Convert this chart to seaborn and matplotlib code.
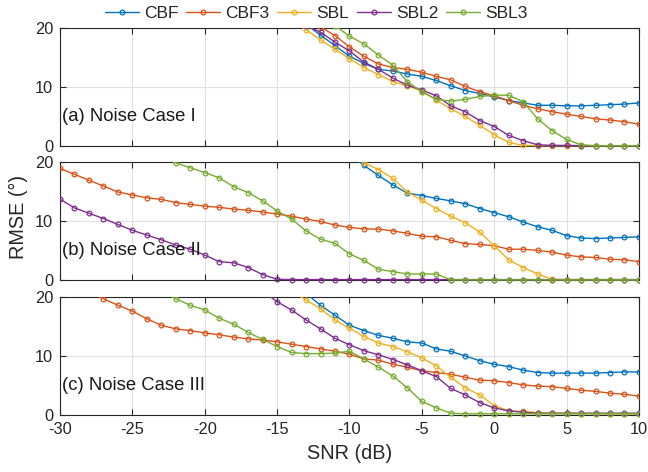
import numpy as np
import pandas as pd
import matplotlib
matplotlib.use("Agg")
import matplotlib.pyplot as plt
from matplotlib.lines import Line2D
from matplotlib.transforms import Bbox, TransformedBbox
import seaborn as sns

NAN = np.nan
snr = list(range(-30, 11))
methods = ["CBF", "CBF3", "SBL", "SBL2", "SBL3"]
colors = ["#0072BD", "#D95319", "#EDB120", "#7E2F8E", "#77AC30"]
panel_titles = ["(a) Noise Case I", "(b) Noise Case II", "(c) Noise Case III"]

# ---- Noise Case I (values listed from the first visible SNR, leading points off-scale) ----
c1_cbf_start, c1_cbf = -13, [20.6, 18.8, 17.0, 15.2, 14.0, 13.0, 12.7, 12.2, 11.8, 11.1, 10.2, 9.4,
                             8.9, 8.3, 7.7, 7.3, 6.9, 6.9, 6.8, 6.8, 6.9, 7.0, 7.1, 7.3]
c1_cbf3_start, c1_cbf3 = -12, [20.2, 18.7, 16.8, 15.2, 13.9, 13.3, 13.0, 12.5, 11.8, 11.2, 10.1, 9.2,
                               8.5, 7.7, 6.9, 6.3, 5.8, 5.4, 5.0, 4.6, 4.4, 4.1, 3.7]
c1_sbl_start, c1_sbl = -14, [21.2, 19.7, 18.0, 16.4, 14.8, 13.3, 12.1, 10.9, 10.2, 9.3, 7.8, 6.3, 5.0,
                             3.5, 1.9, 0.6, 0.1, 0.05, 0.05, 0.05, 0.05, 0.05, 0.05, 0.05, 0.05]
c1_sbl2_start, c1_sbl2 = -13, [20.4, 19.3, 17.6, 16.1, 14.2, 13.0, 11.5, 10.3, 9.5, 8.5, 6.8, 5.8, 4.3,
                               3.3, 1.8, 0.9, 0.2, 0.1, 0.1, 0.05, 0.05, 0.05, 0.05, 0.05]
c1_sbl3_start, c1_sbl3 = -11, [20.4, 18.6, 17.3, 15.4, 13.7, 10.9, 9.2, 7.9, 7.6, 7.9, 8.4, 8.6, 8.6,
                               7.5, 4.6, 2.6, 1.1, 0.2, 0.05, 0.05, 0.05, 0.05]

# ---- Noise Case II ----
c2_cbf_start, c2_cbf = -10, [21.4, 19.5, 17.8, 16.2, 14.8, 14.4, 13.9, 13.5, 13.0, 12.2, 11.5, 10.8,
                             9.9, 9.1, 8.5, 7.6, 7.2, 7.1, 7.2, 7.3, 7.4]
c2_cbf3_start, c2_cbf3 = -30, [19.0, 18.0, 17.0, 16.0, 15.0, 14.5, 14.0, 13.75, 13.2, 12.9, 12.6, 12.4,
                               12.1, 11.9, 11.6, 11.25, 10.9, 10.4, 10.0, 9.4, 9.0, 8.75, 8.7, 8.4,
                               8.0, 7.5, 7.4, 6.8, 6.25, 6.1, 5.9, 5.3, 5.3, 5.1, 4.8, 4.3, 4.0, 3.9,
                               3.6, 3.5, 3.2]
c2_sbl_start, c2_sbl = -10, [21.5, 19.95, 18.8, 17.3, 15.0, 13.6, 12.2, 10.9, 9.8, 8.2, 5.9, 3.5, 2.2,
                             1.1, 0.2, 0.15, 0.15, 0.15, 0.15, 0.15, 0.15]
c2_sbl2_start, c2_sbl2 = -30, [13.8, 12.3, 11.4, 10.5, 9.5, 8.5, 7.7, 6.9, 6.0, 5.3, 4.3, 3.2, 3.0, 2.2,
                               1.0, 0.2] + [0.15] * 25
c2_sbl3_start, c2_sbl3 = -23, [21.0, 19.95, 19.1, 18.3, 17.4, 15.9, 14.9, 13.5, 11.8, 10.4, 8.4, 7.0,
                               6.3, 4.5, 3.4, 1.9, 1.5, 1.1, 1.1, 1.1] + [0.1] * 14

# ---- Noise Case III ----
c3_cbf_start, c3_cbf = -13, [20.6, 18.6, 16.9, 15.2, 14.3, 13.5, 13.0, 12.4, 12.2, 11.2, 10.8, 10.0,
                             9.2, 8.6, 8.2, 7.6, 7.2, 7.1, 7.1, 7.1, 7.1, 7.2, 7.3, 7.3]
c3_cbf3_start, c3_cbf3 = -28, [20.8, 19.7, 18.6, 17.6, 16.3, 15.2, 14.6, 14.3, 13.9, 13.6, 13.2, 12.9,
                               12.7, 12.4, 12.0, 11.6, 11.2, 10.8, 10.3, 9.5, 9.3, 8.6, 8.1, 7.5,
                               7.2, 6.9, 6.4, 5.9, 5.8, 5.5, 5.1, 4.9, 4.8, 4.5, 4.2, 4.0, 3.7, 3.5,
                               3.2]
c3_sbl_start, c3_sbl = -14, [21.0, 19.5, 18.0, 16.1, 14.7, 13.3, 12.2, 11.6, 10.7, 9.7, 8.3, 6.4, 4.6,
                             3.4, 1.6, 0.7, 0.6, 0.4, 0.3, 0.3, 0.25, 0.25, 0.2, 0.2, 0.2]
c3_sbl2_start, c3_sbl2 = -16, [21.0, 19.2, 17.8, 16.1, 14.6, 13.0, 11.9, 10.9, 10.2, 9.4, 8.5, 7.5,
                               6.5, 4.5, 3.4, 2.1, 1.2, 0.7, 0.45] + [0.3] * 8
c3_sbl3_start, c3_sbl3 = -23, [21.0, 19.7, 18.6, 17.8, 16.4, 15.4, 14.0, 12.8, 11.6, 10.6, 10.4, 10.4,
                               10.5, 10.8, 9.5, 8.1, 6.6, 4.6, 2.3, 1.2, 0.3] + [0.2] * 13

cases = [
    [(c1_cbf_start, c1_cbf), (c1_cbf3_start, c1_cbf3), (c1_sbl_start, c1_sbl),
     (c1_sbl2_start, c1_sbl2), (c1_sbl3_start, c1_sbl3)],
    [(c2_cbf_start, c2_cbf), (c2_cbf3_start, c2_cbf3), (c2_sbl_start, c2_sbl),
     (c2_sbl2_start, c2_sbl2), (c2_sbl3_start, c2_sbl3)],
    [(c3_cbf_start, c3_cbf), (c3_cbf3_start, c3_cbf3), (c3_sbl_start, c3_sbl),
     (c3_sbl2_start, c3_sbl2), (c3_sbl3_start, c3_sbl3)],
]

rows = []
for ci, case in enumerate(cases):
    for m, (start, vals) in zip(methods, case):
        for k, v in enumerate(vals):
            rows.append({"case": ci, "Method": m, "SNR": start + k, "RMSE": v})
df = pd.DataFrame(rows).dropna()

sns.set_style("ticks")
plt.rcParams["font.family"] = ["Liberation Sans", "DejaVu Sans"]
plt.rcParams["axes.edgecolor"] = "#262626"
plt.rcParams["xtick.color"] = "#262626"
plt.rcParams["ytick.color"] = "#262626"

fig, axes = plt.subplots(3, 1, figsize=(6.48, 4.72), dpi=100, sharex=True)
fig.subplots_adjust(left=0.0926, right=0.986, top=0.9407, bottom=0.1208, hspace=0.14)

palette = dict(zip(methods, colors))
for ci, ax in enumerate(axes):
    sub = df[df["case"] == ci]
    sns.lineplot(data=sub, x="SNR", y="RMSE", hue="Method", hue_order=methods,
                 palette=palette, marker="o", markersize=3.4,
                 markeredgewidth=0.9, linewidth=1.0, legend=False, ax=ax, zorder=3)
    ax.set_xlim(-30, 10)
    ax.set_ylim(0, 20)
    ax.set_yticks([0, 10, 20])
    ax.set_xticks(range(-30, 11, 5))
    ax.grid(True, color="#e0e0e0", linewidth=0.8, zorder=0)
    ax.set_axisbelow(True)
    ax.set_xlabel("")
    ax.set_ylabel("")
    ax.tick_params(direction="in", length=4, width=0.8, top=True, right=True,
                   labelsize=11.8, pad=5, labelcolor="#262626")
    for sp in ax.spines.values():
        sp.set_visible(True)
        sp.set_linewidth(0.8)
        sp.set_color("#262626")
    clip = TransformedBbox(Bbox([[0, -0.04], [1.0, 1.0]]), ax.transAxes)
    for ln in ax.get_lines():
        if ln.get_marker() == "o":
            c = ln.get_color()
            ln.set_markeredgecolor(c)
            ln.set_markerfacecolor("none")
            ln.set_clip_path(None)
            ln.set_clip_box(clip)
    ax.text(0.003, 0.25, panel_titles[ci], transform=ax.transAxes, fontsize=13.3,
            va="center", ha="left", color="#1a1a1a")

axes[-1].set_xticklabels([str(t) for t in range(-30, 11, 5)])
axes[-1].set_xlabel("SNR (dB)", fontsize=14.3, labelpad=5, color="#262626")
fig.text(0.029, 0.54, "RMSE (°)", rotation=90, fontsize=14.3, va="center", ha="center",
         color="#262626")

handles = [Line2D([], [], color=c, marker="o", markersize=3.4, markerfacecolor="none",
                  markeredgecolor=c, markeredgewidth=0.9, linewidth=1.0) for c in colors]
fig.legend(handles, methods, loc="center", bbox_to_anchor=(0.488, 0.972), ncol=5,
           frameon=False, fontsize=12.5, handlelength=1.95, handletextpad=0.3,
           columnspacing=0.45, borderpad=0.1)

fig.savefig("out.png", dpi=100)
